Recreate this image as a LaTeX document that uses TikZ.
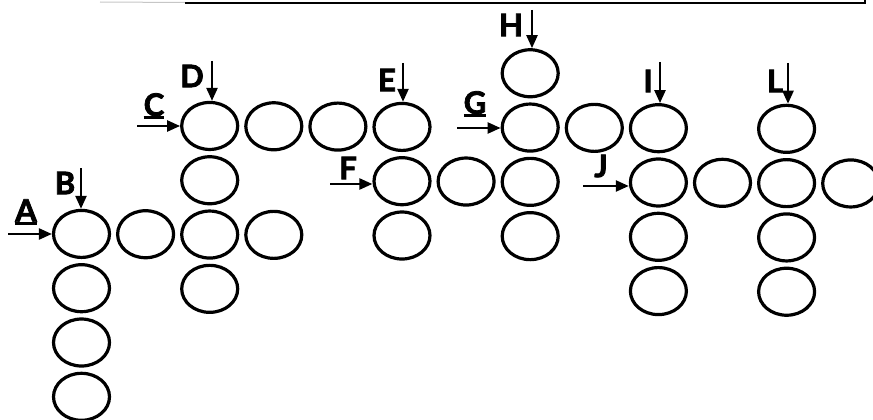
\documentclass[tikz,border=0pt]{standalone}
\usepackage{fontspec}
\setmainfont{Lato}
\newfontfamily\lblfont{Lato}[FakeBold=2.6]
\usetikzlibrary{shapes.geometric,arrows.meta}
\newcommand\ulbar[1]{\setbox0\hbox{#1}\rlap{\rule[-3pt]{\wd0}{3.2pt}}#1}
\begin{document}
\begin{tikzpicture}[x=1pt,y=-1pt,
  ring/.style={ellipse, draw, line width=3.2pt, minimum width=56pt, minimum height=47pt, inner sep=0pt},
  lbl/.style={font=\lblfont\fontsize{31}{32}\selectfont\bfseries, inner sep=0pt},
  arr/.style={line width=2.4pt, -{Triangle[length=13pt,width=11pt]}}]
\useasboundingbox (0,0) rectangle (873,420);
% top frame edge
\draw[gray!45, line width=1pt] (100,2) -- (185,2.5);
\draw[line width=2.5pt] (185,3) -- (865,3) -- (865,0);
% grid of rings
\foreach \c/\r in {0/3,0/4,0/5,0/6,1/3,2/1,2/2,2/3,2/4,3/1,3/3,4/1,5/1,5/2,5/3,6/2,7/0,7/1,7/2,7/3,8/1,9/1,9/2,9/3,9/4,10/2,11/1,11/2,11/3,11/4,12/2}{
  \pgfmathsetmacro\px{81.5+64.1*\c}
  \pgfmathsetmacro\py{71+54.3*\r+0.005*(\px-80)}
  \node[ring] (c\c-\r) at (\px,\py) {};
}
% labels
\node[lbl] (A) at (26,212) {\ulbar{A}};
\node[lbl] (B) at (65,183) {B};
\node[lbl] (C) at (154,106) {\ulbar{C}};
\node[lbl] (D) at (192,76) {D};
\node[lbl] (E) at (387,80) {E};
\node[lbl] (F) at (348,168) {F};
\node[lbl] (G) at (475,104) {\ulbar{G}};
\node[lbl] (H) at (511,25) {H};
\node[lbl] (I) at (648,81) {I};
\node[lbl] (J) at (601,166) {J};
\node[lbl] (L) at (775,81) {L};
% arrow starts
\coordinate (As) at (8,234);
\coordinate (Bs) at (81,168);
\coordinate (Cs) at (137,126);
\coordinate (Ds) at (212,61);
\coordinate (Es) at (403,63);
\coordinate (Fs) at (330,184);
\coordinate (Gs) at (457,128);
\coordinate (Hs) at (532,10);
\coordinate (Is) at (660,62);
\coordinate (Js) at (583,186);
\coordinate (Ls) at (788,63);
% arrows
\draw[arr] (As) -- (As -| c0-3.west);
\draw[arr] (Bs) -- (Bs |- c0-3.north);
\draw[arr] (Cs) -- (Cs -| c2-1.west);
\draw[arr] (Ds) -- (Ds |- c2-1.north);
\draw[arr] (Es) -- (Es |- c5-1.north);
\draw[arr] (Fs) -- (Fs -| c5-2.west);
\draw[arr] (Gs) -- (Gs -| c7-1.west);
\draw[arr] (Hs) -- (Hs |- c7-0.north);
\draw[arr] (Is) -- (Is |- c9-1.north);
\draw[arr] (Js) -- (Js -| c9-2.west);
\draw[arr] (Ls) -- (Ls |- c11-1.north);
\end{tikzpicture}
\end{document}
